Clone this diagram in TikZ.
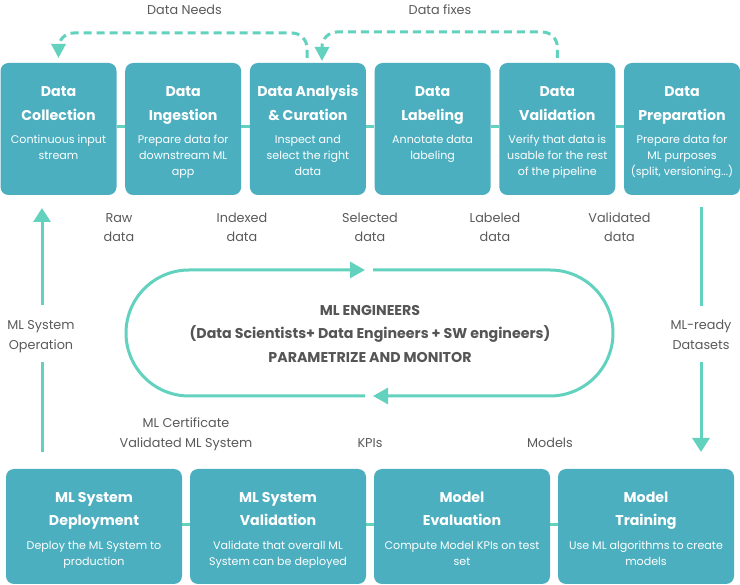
\documentclass[tikz,border=0pt]{standalone}
\usepackage{fontspec}
\setmainfont{Poppins}
\usetikzlibrary{arrows.meta}
\definecolor{boxc}{HTML}{4BAFBF}
\definecolor{linec}{HTML}{62D2BF}
\definecolor{txtg}{HTML}{5A5A5A}
\definecolor{txtd}{HTML}{555555}
\begin{document}
\begin{tikzpicture}[x=1pt,y=-1pt,
  topbox/.style={rectangle,fill=boxc,rounded corners=8pt,minimum width=116pt,minimum height=132pt,inner sep=0pt},
  botbox/.style={rectangle,fill=boxc,rounded corners=8pt,minimum width=176pt,minimum height=115pt,inner sep=0pt},
  ttl/.style={anchor=north,inner sep=0pt,align=center,text=white,font=\fontsize{14.2}{23.5}\selectfont\bfseries},
  bdy/.style={anchor=north,inner sep=0pt,align=center,text=white,font=\fontsize{11.1}{16}\selectfont},
  lbl/.style={anchor=north,inner sep=0pt,align=center,text=txtg,font=\fontsize{12.8}{19.7}\selectfont},
  lbone/.style={anchor=base,inner sep=0pt,text=txtg,font=\fontsize{12.8}{19.7}\selectfont},
  conn/.style={draw=linec,line width=3pt},
  tipA/.style={-{Triangle[length=14pt,width=17pt]}},
  tipB/.style={-{Triangle[length=15pt,width=16pt]}},
  dashconn/.style={draw=linec,line width=3pt,dash pattern=on 8pt off 5pt,rounded corners=15pt,-{Triangle[length=14pt,width=14pt]}},
]
\fill[white] (0,0) rectangle (740,585);
\useasboundingbox (0,0) rectangle (740,585);

% top row boxes
\node[topbox] (coll) at (58.5,129) {};
\node[topbox] (ing)  at (183.2,129) {};
\node[topbox] (ana)  at (307.9,129) {};
\node[topbox] (lab)  at (432.6,129) {};
\node[topbox] (val)  at (557.3,129) {};
\node[topbox] (prep) at (682,129) {};

% bottom row boxes
\node[botbox] (dep)   at (94,526.5) {};
\node[botbox] (sval)  at (278,526.5) {};
\node[botbox] (evalb) at (462,526.5) {};
\node[botbox] (train) at (646,526.5) {};

% connectors between boxes
\draw[conn] ([yshift=2pt]coll.east) -- ([yshift=2pt]ing.west);
\draw[conn] ([yshift=2pt]ing.east) -- ([yshift=2pt]ana.west);
\draw[conn] ([yshift=2pt]ana.east) -- ([yshift=2pt]lab.west);
\draw[conn] ([yshift=2pt]lab.east) -- ([yshift=2pt]val.west);
\draw[conn] ([yshift=2pt]val.east) -- ([yshift=2pt]prep.west);
\draw[conn] ([yshift=1.5pt]dep.east) -- ([yshift=1.5pt]sval.west);
\draw[conn] ([yshift=1.5pt]sval.east) -- ([yshift=1.5pt]evalb.west);
\draw[conn] ([yshift=1.5pt]evalb.east) -- ([yshift=1.5pt]train.west);

% top titles and bodies
\node[ttl] (collT) at (58.5,80.25) {\strut Data\\Collection};
\node[bdy] (collB) at (58.5,132.1) {\strut Continuous input\\stream};
\node[ttl] (ingT) at (183.2,80.25) {\strut Data\\Ingestion};
\node[bdy] (ingB) at (183.2,132.1) {\strut Prepare data for\\downstream ML\\app};
\node[ttl] (anaT) at (307.9,80.25) {\strut Data Analysis\\\& Curation};
\node[bdy] (anaB) at (307.9,132.1) {\strut Inspect and\\select the right\\data};
\node[ttl] (labT) at (432.6,80.25) {\strut Data\\Labeling};
\node[bdy] (labB) at (432.6,132.1) {\strut Annotate data\\labeling};
\node[ttl] (valT) at (557.3,80.25) {\strut Data\\Validation};
\node[bdy] (valB) at (557.3,132.1) {\strut Verify that data is\\usable for the rest\\of the pipeline};
\node[ttl] (prepT) at (682,80.25) {\strut Data\\Preparation};
\node[bdy] (prepB) at (682,132.1) {\strut Prepare data for\\ML purposes\\(split, versioning...)};

% bottom titles and bodies
\node[ttl] (depT) at (94,485.85) {\strut ML System\\Deployment};
\node[bdy] (depB) at (94,538.1) {\strut Deploy the ML System to\\production};
\node[ttl] (svalT) at (278,485.85) {\strut ML System\\Validation};
\node[bdy] (svalB) at (278,538.1) {\strut Validate that overall ML\\System can be deployed};
\node[ttl] (evalT) at (462,485.85) {\strut Model\\Evaluation};
\node[bdy] (evalB) at (462,538.1) {\strut Compute Model KPIs on test\\set};
\node[ttl] (trainT) at (646,485.85) {\strut Model\\Training};
\node[bdy] (trainB) at (646,538.1) {\strut Use ML algorithms to create\\models};

% labels between top boxes
\node[lbl] (l1) at (119,208.2) {\strut Raw\\data};
\node[lbl] (l2) at (242,208.2) {\strut Indexed\\data};
\node[lbl] (l3) at (370,208.2) {\strut Selected\\data};
\node[lbl] (l4) at (495,208.2) {\strut Labeled\\data};
\node[lbl] (l5) at (619.5,208.2) {\strut Validated\\data};

% dashed feedback arrows
\node[lbone] (needs) at (184.5,15) {Data Needs};
\node[lbone] (fixes) at (440,15) {Data fixes};
\coordinate (ndS) at (307,58);
\coordinate (ndE) at (58.5,58);
\coordinate (fxS) at (557.3,58);
\coordinate (fxE) at (322,61);
\draw[dashconn] (ndS) -- ++(0,-25) -| (ndE);
\draw[dashconn] (fxS) -- ++(0,-26) -| (fxE);

% left vertical arrow
\node[lbl] (oplbl) at (41,315.5) {\strut ML System\\Operation};
\coordinate (opA) at (42,452);
\coordinate (opB) at (42,362);
\coordinate (opC) at (42,305);
\coordinate (opD) at (42,208);
\draw[conn] (opA) -- (opB);
\draw[conn,tipA] (opC) -- (opD);

% right vertical arrow
\node[lbl] (dslbl) at (701,315.5) {\strut ML-ready\\Datasets};
\coordinate (dsA) at (701,207);
\coordinate (dsB) at (701,306);
\coordinate (dsC) at (701,362);
\coordinate (dsD) at (701,452);
\draw[conn] (dsA) -- (dsB);
\draw[conn,tipA] (dsC) -- (dsD);

% bottom labels
\node[lbl] (cert) at (186,413.9) {\strut ML Certificate\\Validated ML System};
\node[lbone] (kpis) at (370,447.7) {KPIs};
\node[lbone] (models) at (550,448) {Models};

% central loop
\coordinate (lpA) at (373,270);
\coordinate (lpB) at (613,270);
\coordinate (lpC) at (613,396);
\coordinate (lpD) at (373,396);
\coordinate (lpE) at (365,396);
\coordinate (lpF) at (126,396);
\coordinate (lpG) at (126,270);
\coordinate (lpH) at (365,270);
\draw[conn,tipB,rounded corners=63pt] (lpA) -- (lpB) -- (lpC) -- (lpD);
\draw[conn,tipB,rounded corners=63pt] (lpE) -- (lpF) -- (lpG) -- (lpH);
\node[anchor=north,inner sep=0pt,align=center,text=txtd,font=\fontsize{14.2}{23.7}\selectfont\bfseries] (eng) at (370,298.4)
  {\strut ML ENGINEERS\\(Data Scientists+ Data Engineers + SW engineers)\\PARAMETRIZE AND MONITOR};
\end{tikzpicture}
\end{document}
